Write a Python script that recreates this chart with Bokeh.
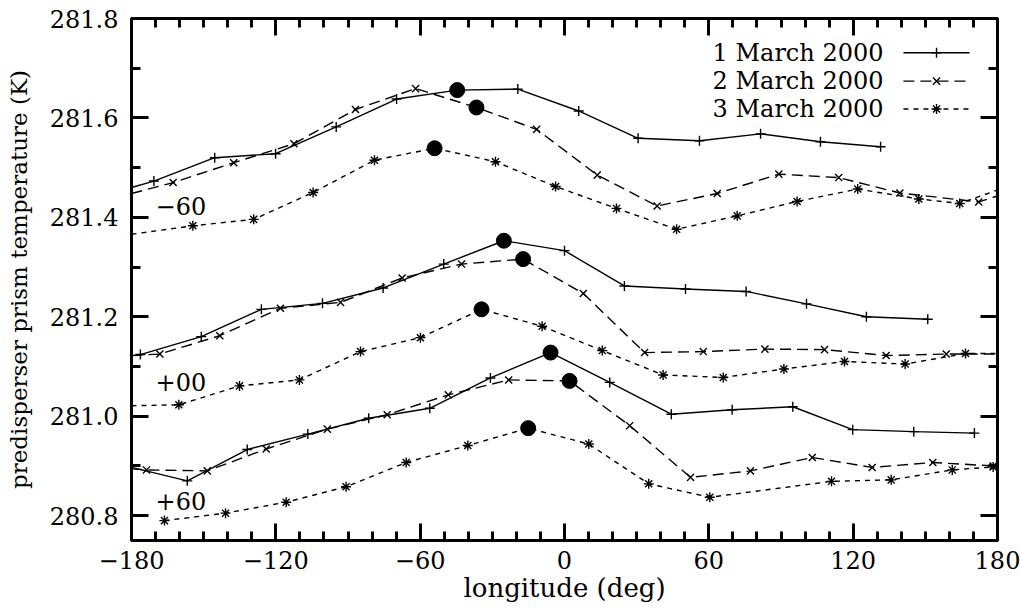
from bokeh.plotting import figure
from bokeh.models import Range1d, FixedTicker, LinearAxis, CustomJSTickFormatter
from bokeh.embed import file_html
from bokeh.resources import INLINE
from bokeh.core.properties import value

FONT = "DejaVu Serif"

# ---------------- axes ----------------
x_ticks = [-180, -120, -60, 0, 60, 120, 180]
x_tick_labels = ["−180", "−120", "−60", "0", "60", "120", "180"]
x_minor = list(range(-180, 181, 10))
y_ticks = [280.8, 281.0, 281.2, 281.4, 281.6, 281.8]
y_tick_labels = ["280.8", "281.0", "281.2", "281.4", "281.6", "281.8"]
y_minor = [280.8, 280.9, 281.0, 281.1, 281.2, 281.3, 281.4, 281.5, 281.6, 281.7, 281.8]

series_labels = ["1 March 2000", "2 March 2000", "3 March 2000"]
group_labels = ["−60", "+00", "+60"]

# ---------------- data: group -60 ----------------
m60_d1_lon = [-180, -170.7, -145.4, -120.1, -94.9, -69.8, -44.6, -19.4, 5.9, 30.6, 56.1, 81.5, 106.4, 131.4]
m60_d1_T = [281.460, 281.473, 281.520, 281.528, 281.582, 281.638, 281.656, 281.658, 281.614, 281.559,
            281.554, 281.568, 281.552, 281.542]
m60_d1_dot = 6
m60_d2_lon = [-180, -162.7, -137.5, -112.5, -86.9, -61.9, -36.6, -11.6, 13.6, 38.5, 63.5, 89.1, 114.0,
              139.4, 172.2, 180]
m60_d2_T = [281.448, 281.470, 281.510, 281.548, 281.617, 281.659, 281.621, 281.577, 281.485, 281.423,
            281.448, 281.487, 281.480, 281.449, 281.431, 281.443]
m60_d2_dot = 6
m60_d3_lon = [-180, -154.5, -129.2, -104.5, -79.0, -54.0, -28.7, -3.7, 21.6, 46.6, 71.8, 96.7, 121.9,
              147.3, 164.3, 180]
m60_d3_T = [281.366, 281.383, 281.396, 281.450, 281.515, 281.539, 281.512, 281.462, 281.418, 281.376,
            281.403, 281.432, 281.457, 281.437, 281.428, 281.455]
m60_d3_dot = 5

# ---------------- data: group +00 ----------------
p00_d1_lon = [-176.3, -151.0, -126.0, -100.6, -75.4, -50.2, -25.2, 0.0, 24.9, 50.3, 75.5, 100.6, 125.5, 151.0]
p00_d1_T = [281.124, 281.160, 281.215, 281.227, 281.258, 281.306, 281.353, 281.333, 281.262, 281.256,
            281.251, 281.226, 281.200, 281.195]
p00_d1_dot = 6
p00_d2_lon = [-180, -168.2, -143.3, -118.1, -93.1, -67.5, -42.8, -17.2, 7.8, 33.3, 57.7, 83.3, 108.1,
              133.7, 158.7, 180]
p00_d2_T = [281.122, 281.125, 281.162, 281.217, 281.229, 281.278, 281.306, 281.316, 281.247, 281.128,
            281.130, 281.135, 281.134, 281.122, 281.125, 281.125]
p00_d2_dot = 7
p00_d3_lon = [-180, -160.3, -135.1, -110.2, -84.8, -59.9, -34.5, -9.3, 15.7, 41.0, 66.0, 91.2, 116.4,
              141.6, 166.7, 180]
p00_d3_T = [281.021, 281.023, 281.061, 281.073, 281.130, 281.158, 281.215, 281.181, 281.132, 281.083,
            281.078, 281.095, 281.110, 281.105, 281.126, 281.126]
p00_d3_dot = 6

# ---------------- data: group +60 ----------------
p60_d1_lon = [-180, -156.8, -131.9, -106.7, -81.4, -56.0, -30.8, -5.8, 18.8, 44.4, 69.7, 94.9, 119.8,
              145.2, 170.4]
p60_d1_T = [280.897, 280.870, 280.933, 280.964, 280.996, 281.016, 281.077, 281.128, 281.068, 281.004,
            281.013, 281.019, 280.973, 280.969, 280.966]
p60_d1_dot = 7
p60_d2_lon = [-180, -173.8, -148.5, -124.0, -98.6, -73.7, -48.3, -23.2, 2.1, 27.1, 52.4, 77.3, 103.0,
              127.9, 153.1, 178.2]
p60_d2_T = [280.894, 280.892, 280.890, 280.934, 280.974, 281.003, 281.043, 281.073, 281.071, 280.981,
            280.877, 280.890, 280.917, 280.897, 280.907, 280.900]
p60_d2_dot = 8
p60_d3_lon = [-166.3, -140.9, -115.7, -90.8, -65.8, -40.2, -15.1, 10.1, 35.0, 60.4, 111.0, 135.8,
              161.2, 178.2]
p60_d3_T = [280.790, 280.805, 280.827, 280.858, 280.907, 280.941, 280.976, 280.944, 280.864, 280.837,
            280.869, 280.872, 280.892, 280.898]
p60_d3_dot = 6

groups = [
    [(m60_d1_lon, m60_d1_T, m60_d1_dot), (m60_d2_lon, m60_d2_T, m60_d2_dot), (m60_d3_lon, m60_d3_T, m60_d3_dot)],
    [(p00_d1_lon, p00_d1_T, p00_d1_dot), (p00_d2_lon, p00_d2_T, p00_d2_dot), (p00_d3_lon, p00_d3_T, p00_d3_dot)],
    [(p60_d1_lon, p60_d1_T, p60_d1_dot), (p60_d2_lon, p60_d2_T, p60_d2_dot), (p60_d3_lon, p60_d3_T, p60_d3_dot)],
]

# ---------------- styles / annotation positions ----------------
dashes = ["solid", "11 6", "5 5"]
markers = ["cross", "x", "asterisk"]
group_label_pos = [(-170.0, 281.423), (-170.0, 281.069), (-170.0, 280.830)]
legend_text_x = 132.6
legend_line_x = (140.9, 168.4)
legend_rows_y = [281.731, 281.674, 281.618]

p = figure(width=1021, height=610, x_range=Range1d(-180, 180), y_range=Range1d(280.75, 281.8),
           output_backend="svg", toolbar_location=None, x_axis_location=None, y_axis_location=None,
           min_border_left=131, min_border_right=24, min_border_top=18, min_border_bottom=70)
p.xgrid.visible = False
p.ygrid.visible = False
p.outline_line_color = "black"
p.outline_line_width = 3
p.background_fill_color = "white"
p.border_fill_color = "white"

fmt_code = """
const i = tick_vals.findIndex(t => Math.abs(t - tick) < 1e-6);
return i >= 0 ? tick_texts[i] : '';
"""


def make_axis(ticks, minor, labels, show):
    ax = LinearAxis(ticker=FixedTicker(ticks=ticks, minor_ticks=minor))
    ax.formatter = CustomJSTickFormatter(args=dict(tick_vals=ticks, tick_texts=labels), code=fmt_code)
    ax.axis_line_color = "black"
    ax.axis_line_width = 3
    ax.major_tick_in = 17
    ax.major_tick_out = 0
    ax.minor_tick_in = 9
    ax.minor_tick_out = 0
    ax.major_tick_line_width = 3
    ax.minor_tick_line_width = 3
    ax.major_tick_line_color = "black"
    ax.minor_tick_line_color = "black"
    ax.major_label_text_font = FONT
    ax.major_label_text_color = "black"
    ax.axis_label_text_font = FONT
    ax.axis_label_text_font_style = "normal"
    ax.axis_label_text_color = "black"
    if show:
        ax.major_label_text_font_size = "24px"
    else:
        ax.major_label_text_alpha = 0
        ax.major_label_text_font_size = "1px"
        ax.major_label_standoff = 0
    return ax


bottom = make_axis(x_ticks, x_minor, x_tick_labels, True)
bottom.major_label_standoff = 10
bottom.axis_label = "longitude (deg)"
bottom.axis_label_text_font_size = "26px"
bottom.axis_label_standoff = 1
p.add_layout(bottom, "below")

top = make_axis(x_ticks, x_minor, x_tick_labels, False)
p.add_layout(top, "above")

left = make_axis(y_ticks, y_minor, y_tick_labels, True)
left.major_label_standoff = 13
left.axis_label = "predisperser prism temperature (K)"
left.axis_label_text_font_size = "23px"
left.axis_label_standoff = 15
p.add_layout(left, "left")

right = make_axis(y_ticks, y_minor, y_tick_labels, False)
p.add_layout(right, "right")

for gi, group in enumerate(groups):
    for si, (lon, T, dot) in enumerate(group):
        p.line(lon, T, line_color="black", line_width=1.4, line_dash=dashes[si])
        mx = [l for l in lon if abs(l) < 179.5]
        my = [t for l, t in zip(lon, T) if abs(l) < 179.5]
        p.scatter(mx, my, marker=markers[si], size=10, line_color="black", line_width=1.4)
        p.scatter([lon[dot]], [T[dot]], marker="circle", size=15, fill_color="black", line_color="black")

p.text(x=[q[0] for q in group_label_pos], y=[q[1] for q in group_label_pos], text=group_labels,
       text_font=value(FONT), text_font_size="24px", text_align="left", text_baseline="middle",
       text_color="black")

# legend (gnuplot style: text, then line sample)
p.text(x=[legend_text_x] * 3, y=legend_rows_y, text=series_labels, text_font=value(FONT),
       text_font_size="24px", text_align="right", text_baseline="middle", text_color="black")
for si in range(3):
    yy = legend_rows_y[si]
    p.line([legend_line_x[0], legend_line_x[1]], [yy, yy], line_color="black", line_width=1.4,
           line_dash=dashes[si])
    p.scatter([(legend_line_x[0] + legend_line_x[1]) / 2], [yy], marker=markers[si], size=10,
              line_color="black", line_width=1.4)

open("out.html", "w").write(file_html(p, INLINE))
